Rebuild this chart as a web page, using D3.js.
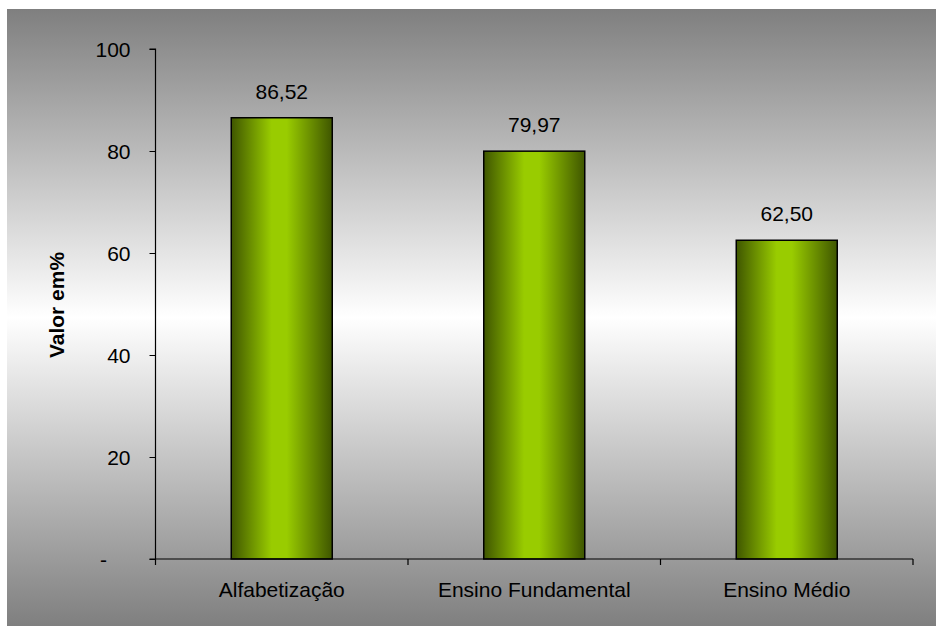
<!DOCTYPE html>
<html><head><meta charset="utf-8">
<script src="https://cdn.jsdelivr.net/npm/d3@7"></script>
<style>html,body{margin:0;padding:0;background:#fff;}svg{display:block;}text{font-family:"Liberation Sans",Arial,sans-serif;fill:#000;}</style>
</head><body>
<svg id="c" width="936" height="626"></svg>
<script>
const categories = ["Alfabetização", "Ensino Fundamental", "Ensino Médio"];
const values = [86.52, 79.97, 62.50];
const valueLabels = ["86,52", "79,97", "62,50"];
const yTicks = [0, 20, 40, 60, 80, 100];
const yTickLabels = ["-", "20", "40", "60", "80", "100"];
const yTitle = "Valor em%";

(function(){
const FS = "21px";
const svg = d3.select("#c");
const defs = svg.append("defs");
const bg = defs.append("linearGradient").attr("id","bg").attr("x1",0).attr("y1",0).attr("x2",0).attr("y2",1);
bg.append("stop").attr("offset","0%").attr("stop-color","#7f7f7f");
bg.append("stop").attr("offset","50%").attr("stop-color","#ffffff");
bg.append("stop").attr("offset","100%").attr("stop-color","#7f7f7f");
const bar = defs.append("linearGradient").attr("id","bar").attr("x1",0).attr("y1",0).attr("x2",1).attr("y2",0);
bar.append("stop").attr("offset","0%").attr("stop-color","#3f5600");
bar.append("stop").attr("offset","40%").attr("stop-color","#99cc00");
bar.append("stop").attr("offset","55%").attr("stop-color","#99cc00");
bar.append("stop").attr("offset","100%").attr("stop-color","#3f5600");

svg.append("rect").attr("x",7).attr("y",9).attr("width",929).attr("height",617).attr("fill","url(#bg)");

const pL = 155.5, pR = 913, pT = 49, pB = 559;
const x = d3.scaleBand().domain(categories).range([pL, pR]).paddingInner(0.6).paddingOuter(0.3);
const y = d3.scaleLinear().domain([0, 100]).range([pB, pT]);

// bars
svg.append("g").selectAll("rect").data(values).join("rect")
  .attr("x",(d,i)=>x(categories[i]))
  .attr("y",d=>y(d))
  .attr("width",x.bandwidth())
  .attr("height",d=>y(0)-y(d))
  .attr("fill","url(#bar)")
  .attr("stroke","#000").attr("stroke-width",1.5);

// y axis
const ya = svg.append("g").attr("transform",`translate(${pL},0)`)
  .call(d3.axisLeft(y).tickValues(yTicks).tickSize(6).tickFormat((d,i)=>yTickLabels[i]));
ya.select(".domain").attr("stroke","#000").attr("stroke-width",1.2).attr("d",`M-6,${pT}H0V${pB}`);
ya.selectAll(".tick line").attr("stroke","#000");
ya.selectAll(".tick text").attr("font-size",FS).attr("font-family","Liberation Sans, Arial, sans-serif").attr("fill","#000")
  .attr("x",d=>d===0?-52:-25).attr("dy","0.35em").attr("text-anchor",d=>d===0?"middle":"end");

// x axis
const xBounds = [0,1,2,3].map(i=>pL + i*(pR-pL)/3);
const xa = svg.append("g");
xa.append("line").attr("x1",pL-6).attr("x2",pR).attr("y1",pB).attr("y2",pB).attr("stroke","#000").attr("stroke-width",1.2);
xa.selectAll("line.t").data(xBounds).join("line").attr("class","t")
  .attr("x1",d=>d).attr("x2",d=>d).attr("y1",pB).attr("y2",pB+6).attr("stroke","#000").attr("stroke-width",1.2);
xa.selectAll("text").data(categories).join("text")
  .attr("x",d=>x(d)+x.bandwidth()/2).attr("y",597)
  .attr("text-anchor","middle").attr("font-size",FS).text(d=>d);

// value labels
svg.append("g").selectAll("text").data(values).join("text")
  .attr("x",(d,i)=>x(categories[i])+x.bandwidth()/2)
  .attr("y",d=>y(d)-19)
  .attr("text-anchor","middle").attr("font-size",FS)
  .text((d,i)=>valueLabels[i]);

// y title
svg.append("text").attr("transform","translate(64,305) rotate(-90)")
  .attr("text-anchor","middle").attr("font-size",FS).attr("font-weight","bold").text(yTitle);
})();
</script>
</body></html>
